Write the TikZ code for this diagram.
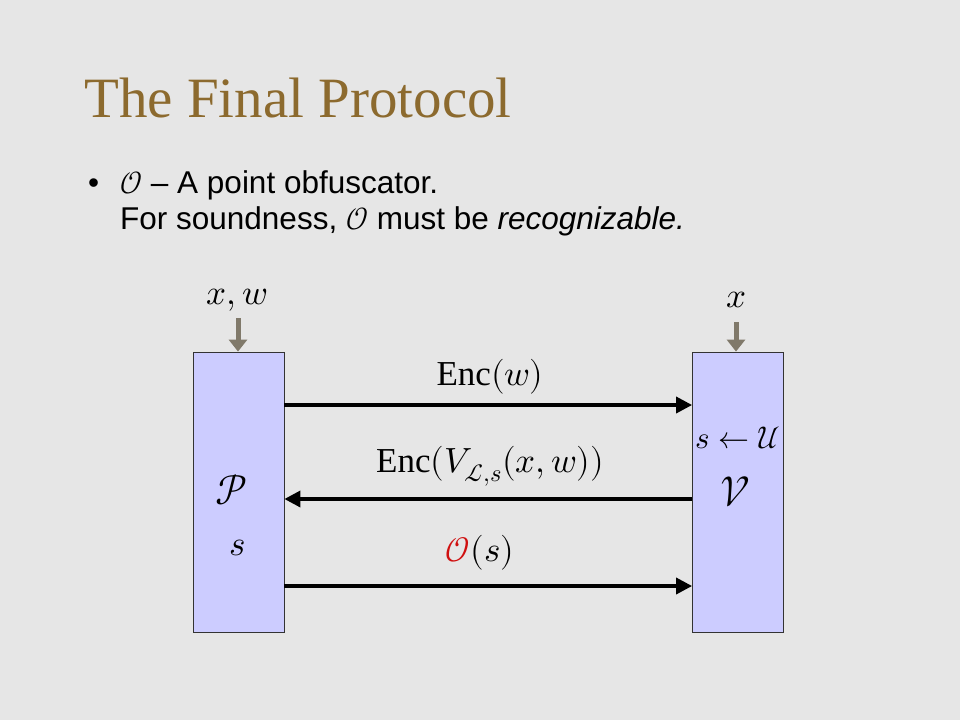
\documentclass[tikz,border=0pt]{standalone}
\usepackage{fontspec}
\usepackage{unicode-math}
\setmainfont{Liberation Serif}
\setmathfont{Latin Modern Math}
\newfontfamily\arialfont{Liberation Sans}
\usetikzlibrary{arrows.meta}
\definecolor{bgc}{HTML}{E6E6E6}
\definecolor{titlec}{HTML}{8C6A2E}
\definecolor{boxc}{HTML}{CCCCFF}
\definecolor{inc}{HTML}{80796A}
\definecolor{redc}{HTML}{D01010}
\tikzset{
  party/.style={draw=black!80, line width=0.8pt, fill=boxc, minimum width=91pt, minimum height=280pt, inner sep=0pt},
  msg/.style={line width=3.5pt, -{Triangle[length=16pt,width=16pt]}},
  inarrow/.style={draw=inc, line width=5pt, -{Triangle[length=12pt,width=18pt]}},
  lbl/.style={inner sep=0pt, font=\fontsize{35}{40}\selectfont},
  big/.style={inner sep=0pt, font=\fontsize{42}{46}\selectfont},
  bul/.style={anchor=base west, inner sep=0pt, font=\arialfont\fontsize{31.5}{36}\selectfont},
}
\begin{document}
\begin{tikzpicture}[x=1pt,y=-1pt]
\fill[bgc] (0,0) rectangle (960,720);
\useasboundingbox (0,0) rectangle (960,720);
\node[anchor=base west, inner sep=0pt, text=titlec, font=\fontsize{57}{64}\selectfont] (title) at (84,117) {The Final Protocol};
\node[bul] (dot) at (88,193) {\textbullet};
\node[bul] (b1) at (120,193) {$\mathcal{O}$ – A point obfuscator.};
\node[bul] (b2) at (120,229) {For soundness, $\mathcal{O}$ must be \textit{recognizable.}};
\node[party] (P) at (238.5,492) {};
\node[party] (V) at (738,492) {};
\coordinate (pin) at (238,318);
\coordinate (vin) at (736,322);
\draw[inarrow] (pin) -- (P.north -| pin);
\draw[inarrow] (vin) -- (V.north -| vin);
\node[lbl] (xw) at (237,300) {$x,w$};
\node[lbl] (x) at (736,300) {$x$};
\draw[msg] (P.east |- 0,405) -- (V.west |- 0,405);
\draw[msg] (V.west |- 0,499) -- (P.east |- 0,499);
\draw[msg] (P.east |- 0,586) -- (V.west |- 0,586);
\node[lbl] (l1) at (490,377) {$\mathrm{Enc}(w)$};
\node[lbl] (l2) at (490,466) {$\mathrm{Enc}(V_{\mathcal{L},s}(x,w))$};
\node[lbl] (l3) at (480,553) {$\textcolor{redc}{\mathcal{O}}(s)$};
\node[big] (Pl) at (232,490) {$\mathcal{P}$};
\node[lbl] (Ps) at (238,548) {$s$};
\node[lbl, font=\fontsize{31}{36}\selectfont] (Vs) at (738,438) {$s\leftarrow\mathcal{U}$};
\node[big] (Vl) at (735,492) {$\mathcal{V}$};
\end{tikzpicture}
\end{document}
